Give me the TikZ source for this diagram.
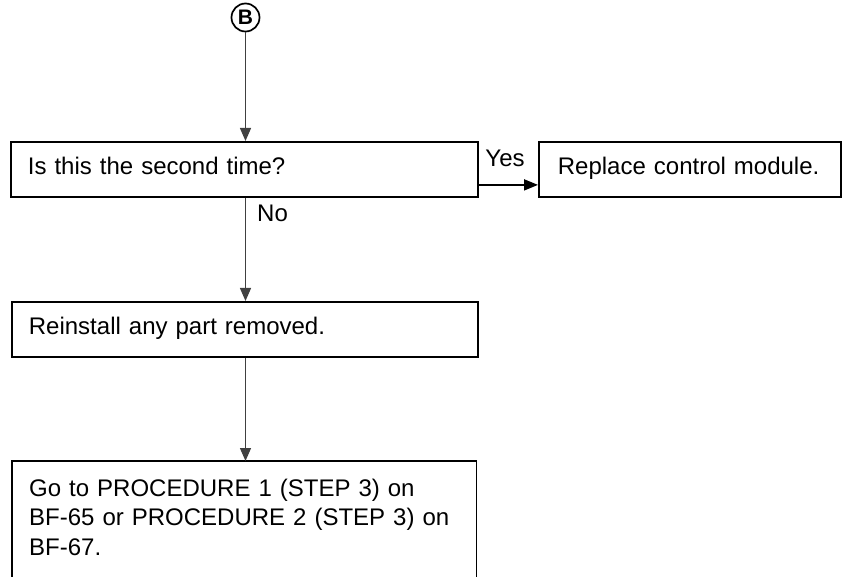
\documentclass[tikz,border=0pt]{standalone}
\usepackage{fontspec}
\setmainfont{Liberation Sans}
\usetikzlibrary{arrows.meta}
\begin{document}
\begin{tikzpicture}[x=1pt,y=-1pt,
  every node/.style={font=\fontsize{24}{29.5}\selectfont},
  box/.style={draw, line width=1.8pt, rectangle, anchor=north west, inner xsep=17pt, inner ysep=0pt, align=left, minimum height=55pt, text height=18pt, text depth=8pt},
  openbox/.style={draw=none, anchor=north west, inner xsep=17pt, inner ysep=17.5pt, align=left},
  flow/.style={draw=black!75, line width=1.3pt, -{Triangle[length=13pt,width=11pt]}},
  yesflow/.style={draw=black, line width=1.8pt, -{Triangle[length=14pt,width=11pt]}},
  lbl/.style={inner sep=0pt}]
\useasboundingbox (0,0) rectangle (852,577);
\node[draw, circle, line width=1.7pt, minimum size=28pt, inner sep=0pt, font=\fontsize{21}{21}\selectfont\bfseries] (B) at (245.5,17.5) {B};
\node[box, text width=433pt] (q1) at (10,141) {Is this the second time?};
\node[box, text width=264pt, inner xsep=19pt] (r1) at (538,141) {Replace control module.};
\node[box, text width=432pt] (s1) at (11,301) {Reinstall any part removed.};
\node[openbox, text width=430pt] (g1) at (12,461) {Go to PROCEDURE 1 (STEP 3) on\\BF-65 or PROCEDURE 2 (STEP 3) on\\BF-67.};
\coordinate (bot) at (0,577);
\draw[line width=1.8pt] (g1.north west |- bot) -- (g1.north west) -- (g1.north east) -- (g1.north east |- bot);
\draw[flow] (B) -- (B |- q1.north);
\draw[flow] (B |- q1.south) -- (B |- s1.north);
\draw[flow] (B |- s1.south) -- (B |- g1.north);
\coordinate (ya) at ([yshift=-15.5pt]q1.east);
\draw[yesflow] (ya) -- (ya -| r1.west);
\node[lbl] (yes) at (505,158) {Yes};
\node[lbl, anchor=west] (no) at (257,213) {No};
\end{tikzpicture}
\end{document}
